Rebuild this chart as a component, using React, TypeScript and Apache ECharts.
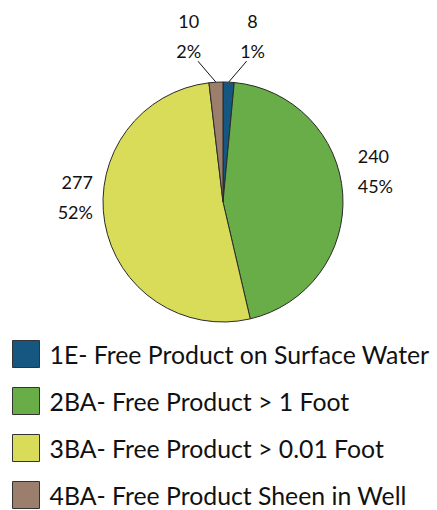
import React, { useEffect, useRef } from "react";
import * as echarts from "echarts";

const categories = [
  "1E- Free Product on Surface Water",
  "2BA- Free Product > 1 Foot",
  "3BA- Free Product > 0.01 Foot",
  "4BA- Free Product Sheen in Well",
];
const counts = [8, 240, 277, 10];
const colors = ["#165781", "#68ad47", "#d9dc58", "#9b7e6b"];

export default function App() {
  const ref = useRef<HTMLDivElement>(null);
  useEffect(() => {
    document.body.style.margin = "0";
    const chart = echarts.init(ref.current!, null, { renderer: "svg" });
    const small = (v: number) => v < 20;
    chart.setOption({
      animation: false,
      backgroundColor: "#ffffff",
      textStyle: { fontFamily: "Lato" },
      legend: {
        orient: "vertical",
        left: 12,
        top: 340,
        padding: 0,
        width: 425,
        height: 400,
        itemWidth: 27,
        itemHeight: 27,
        itemGap: 19,
        icon: "rect",
        itemStyle: { borderColor: "#333", borderWidth: 1 },
        textStyle: {
          fontSize: 24.8,
          lineHeight: 26,
          color: "#111",
          fontFamily: "Lato",
          padding: [0, 0, 0, 5],
        },
        data: categories,
      },
      series: [
        {
          type: "pie",
          center: [223, 202],
          radius: 120,
          startAngle: 90,
          clockwise: true,
          percentPrecision: 0,
          avoidLabelOverlap: false,
          itemStyle: { borderColor: "#2a2a2a", borderWidth: 1 },
          label: {
            show: true,
            position: "outside",
            formatter: "{c}\n{d}%",
            fontSize: 18,
            lineHeight: 30,
            color: "#111",
            fontFamily: "Lato",
          },
          labelLine: { show: true, length: 10, length2: 0, lineStyle: { color: "#111", width: 1 } },
          labelLayout: (p: any) => {
            const i = p.dataIndex;
            const pts = p.labelLinePoints;
            if (i === 0 || i === 3) {
              const s = pts[0];
              const dir = i === 0 ? 1 : -1;
              const e = [s[0] + dir * 18, s[1] - 21];
              return {
                dx: dir * (i === 0 ? 18 : 21),
                dy: -26,
                align: "center",
                labelLinePoints: [s, e, e],
              };
            }
            if (i === 1) return { dy: -22 };
            return { dx: 3, dy: -27 };
          },
          data: categories.map((name, i) => ({
            name,
            value: counts[i],
            itemStyle: { color: colors[i] },
            labelLine: small(counts[i]) ? { show: true, length: 20, length2: 0 } : { show: false },
          })),
        },
      ],
    });
    return () => chart.dispose();
  }, []);
  return <div ref={ref} style={{ width: 437, height: 510 }} />;
}
